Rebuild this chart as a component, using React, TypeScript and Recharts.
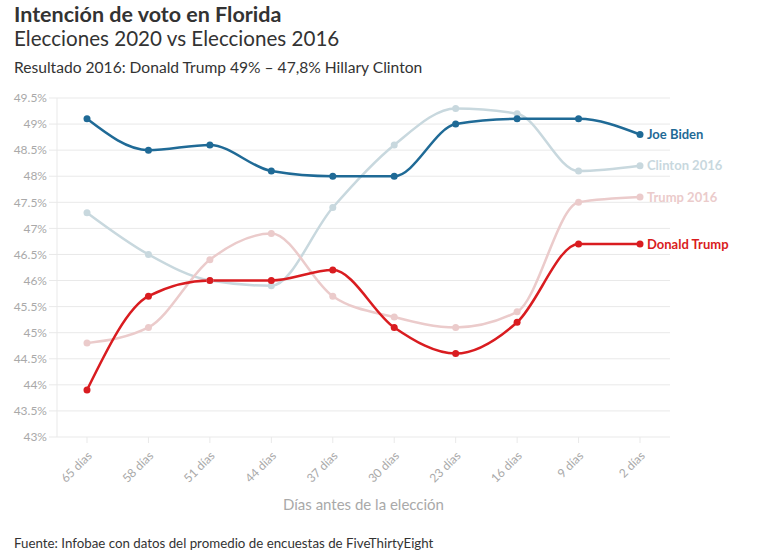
import React from "react";
import {
  LineChart,
  Line,
  XAxis,
  YAxis,
  CartesianGrid,
  LabelList,
} from "recharts";

const dias = ["65 días", "58 días", "51 días", "44 días", "37 días", "30 días", "23 días", "16 días", "9 días", "2 días"];
const biden = [49.1, 48.5, 48.6, 48.1, 48.0, 48.0, 49.0, 49.1, 49.1, 48.8];
const clinton2016 = [47.3, 46.5, 46.0, 45.9, 47.4, 48.6, 49.3, 49.2, 48.1, 48.2];
const trump2016 = [44.8, 45.1, 46.4, 46.9, 45.7, 45.3, 45.1, 45.4, 47.5, 47.6];
const trump = [43.9, 45.7, 46.0, 46.0, 46.2, 45.1, 44.6, 45.2, 46.7, 46.7];
const yTicks = [43, 43.5, 44, 44.5, 45, 45.5, 46, 46.5, 47, 47.5, 48, 48.5, 49, 49.5];

const FONT = "'Source Sans Pro', Lato, 'Open Sans', sans-serif";
const GRID = "#e9e9e9";
const MUTED = "#a9a9a9";

const series = [
  { key: "clinton2016", name: "Clinton 2016", color: "#c8d8de" },
  { key: "trump2016", name: "Trump 2016", color: "#ebcbcb" },
  { key: "biden", name: "Joe Biden", color: "#1f6a96" },
  { key: "trump", name: "Donald Trump", color: "#d91c20" },
];

const data = dias.map((d, i) => ({
  dia: d,
  biden: biden[i],
  clinton2016: clinton2016[i],
  trump2016: trump2016[i],
  trump: trump[i],
}));

const fmtPct = (v: number) => `${v}%`;

// name label drawn to the right of the last point only
const endLabel = (name: string, color: string) => (props: any) => {
  const { x, y, index } = props;
  if (index !== data.length - 1) return null;
  return (
    <text x={x + 7} y={y} dy={4.5} fill={color} fontSize={13} fontWeight={700} fontFamily={FONT}>
      {name}
    </text>
  );
};

const XTick = (props: any) => {
  const { x, y, payload } = props;
  return (
    <g transform={`translate(${x},${y + 6})`}>
      <text textAnchor="end" transform="rotate(-45)" fill={MUTED} fontSize={12} fontFamily={FONT} dy={8}>
        {payload.value}
      </text>
    </g>
  );
};

export default function App() {
  return (
    <div style={{ position: "absolute", left: 0, top: 0, width: 776, height: 557, background: "#fff", fontFamily: FONT, color: "#333" }}>
      <div style={{ position: "absolute", left: 14, top: 1, fontSize: 21.5, fontWeight: 700, color: "#333" }}>
        Intención de voto en Florida
      </div>
      <div style={{ position: "absolute", left: 14, top: 26, fontSize: 20.6, color: "#333" }}>
        Elecciones 2020 vs Elecciones 2016
      </div>
      <div style={{ position: "absolute", left: 14, top: 58, fontSize: 15.6, color: "#333" }}>
        Resultado 2016: Donald Trump 49% – 47,8% Hillary Clinton
      </div>
      <div style={{ position: "absolute", left: 0, top: 0 }}>
        <LineChart width={776} height={557} data={data} margin={{ top: 98, right: 106, bottom: 22, left: 0 }}>
          <CartesianGrid stroke={GRID} vertical={false} />
          <XAxis
            dataKey="dia"
            padding={{ left: 30, right: 30 }}
            axisLine={false}
            tickLine={{ stroke: GRID }}
            tickSize={6}
            tick={<XTick />}
            interval={0}
            height={98}
            label={{ value: "Días antes de la elección", position: "insideBottom", offset: 25, fill: MUTED, fontSize: 15, fontFamily: FONT }}
          />
          <YAxis
            domain={[43, 49.5]}
            ticks={yTicks}
            interval={0}
            tickFormatter={fmtPct}
            width={57}
            axisLine={{ stroke: GRID }}
            tickLine={{ stroke: GRID }}
            tickSize={8}
            tick={{ fill: MUTED, fontSize: 12, fontFamily: FONT }}
          />
          {series.map((s) => (
            <Line
              key={s.key}
              type="monotone"
              dataKey={s.key}
              stroke={s.color}
              strokeWidth={2.5}
              dot={{ r: 3.5, fill: s.color, stroke: s.color, strokeWidth: 0 }}
              isAnimationActive={false}
            >
              <LabelList dataKey={s.key} content={endLabel(s.name, s.color)} />
            </Line>
          ))}
        </LineChart>
      </div>
      <div style={{ position: "absolute", left: 14, top: 535, fontSize: 13.3, color: "#333" }}>
        Fuente: Infobae con datos del promedio de encuestas de FiveThirtyEight
      </div>
    </div>
  );
}
